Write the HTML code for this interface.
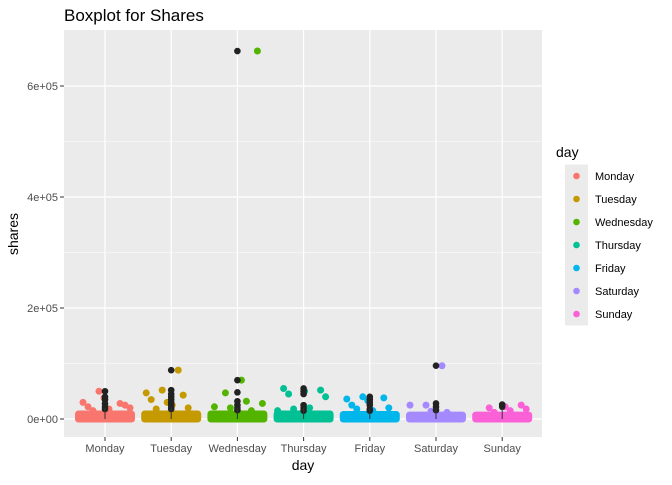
<!DOCTYPE html>
<html><head><meta charset="utf-8"><style>
body{margin:0;background:#fff;font-family:"Liberation Sans",sans-serif}
svg text{font-family:"Liberation Sans",sans-serif}
</style></head><body>
<svg id="c" width="672" height="480">
<text x="64" y="21" font-size="17" fill="#000">Boxplot for Shares</text>
<rect x="64" y="30" width="478" height="407" fill="#EBEBEB"/>
<g id="grid"></g><g id="marks"></g><g id="axes"></g>
<text x="303" y="470" font-size="14" text-anchor="middle">day</text>
<text x="18" y="234" font-size="14" text-anchor="middle" transform="rotate(-90 18 234)">shares</text>
<g id="legend"><text x="556" y="157" font-size="14">day</text></g>
</svg>
<script>
const days=["Monday","Tuesday","Wednesday","Thursday","Friday","Saturday","Sunday"];
const colors=["#F8766D","#C49A00","#53B400","#00C094","#00B6EB","#A58AFF","#FB61D7"];
const yTicks=[0,200000,400000,600000];
const yTickLabels=["0e+00","2e+05","4e+05","6e+05"];
const blobTop=[9000,9000,9000,9000,8000,7000,7000];
const jitterVals=[
[50000,30000,28000,38000,22000,25000,18000,15000,20000],
[88000,52000,47000,43000,30000,35000,20000,25000,18000],
[663000,70000,47000,28000,32000,20000,22000,15000],
[55000,52000,50000,45000,40000,20000,18000,15000],
[40000,36000,38000,33000,25000,20000,15000,18000],
[96000,25000,25000,12000,14000],
[25000,22000,20000,18000,15000,12000]];
const outliers=[
[50000,40000,35000,28000,22000,18000],
[88000,52000,45000,40000,35000,30000,25000,20000,18000],
[663000,70000,48000,32000,25000,20000,16000],
[55000,50000,45000,25000,20000,15000],
[40000,35000,30000,25000,18000,15000],
[96000,28000,22000,16000],
[26000,22000]];
const NS="http://www.w3.org/2000/svg";
const x0=105,dx=66.2;
const xs=i=>x0+i*dx;
const ys=v=>419-v*55.5/100000;
function mk(t,a,p){const e=document.createElementNS(NS,t);for(const k in a)e.setAttribute(k,a[k]);p.appendChild(e);return e;}
const grid=document.getElementById('grid'),marks=document.getElementById('marks'),axes=document.getElementById('axes'),leg=document.getElementById('legend');
[100000,300000,500000].forEach(v=>{const l=mk('line',{x1:64,x2:542,y1:ys(v),y2:ys(v),stroke:'#fff','stroke-width':0.6},grid);

});
yTicks.forEach((v,i)=>{const l=mk('line',{x1:64,x2:542,y1:ys(v),y2:ys(v),stroke:'#fff','stroke-width':1.2},grid);


mk('line',{x1:60,x2:64,y1:ys(v),y2:ys(v),stroke:'#333'},axes);
const t=mk('text',{x:58,y:ys(v)+4,'font-size':11,'text-anchor':'end',fill:'#4D4D4D'},axes);t.textContent=yTickLabels[i];

});
days.forEach((d,i)=>{const x=xs(i);
const l=mk('line',{x1:x,x2:x,y1:30,y2:437,stroke:'#fff','stroke-width':1.2},grid);


mk('line',{x1:x,x2:x,y1:437,y2:441,stroke:'#333'},axes);
const t=mk('text',{x:x,y:452,'font-size':11,'text-anchor':'middle',fill:'#4D4D4D'},axes);t.textContent=d;


const b=mk('rect',{x:x-30,y:ys(blobTop[i])-3.5,width:60,height:ys(0)-ys(blobTop[i])+7,rx:3.5,fill:colors[i]},marks);


jitterVals[i].forEach((v,k)=>{const off=((k*37+i*13+20)%53)-26;
const c=mk('circle',{cx:x+off,cy:ys(v),r:3.5,fill:colors[i]},marks);

});
outliers[i].forEach(v=>{const c=mk('circle',{cx:x,cy:ys(v),r:3.3,fill:'#222'},marks);

});
const bx=mk('line',{x1:x,x2:x,y1:ys(20000),y2:ys(0),stroke:'#333','stroke-width':1},marks);


const ly=176+i*23;
mk('rect',{x:565,y:ly-11.5,width:23,height:23,fill:'#EBEBEB'},leg);
const lc=mk('circle',{cx:576.5,cy:ly,r:3.3,fill:colors[i]},leg);


const lt=mk('text',{x:595,y:ly+4,'font-size':11,fill:'#000'},leg);lt.textContent=d;

});
</script>
</body></html>
